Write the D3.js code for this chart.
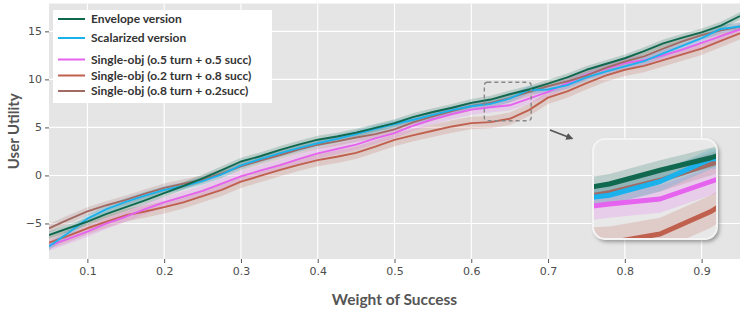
<!DOCTYPE html>
<html><head><meta charset="utf-8">
<script src="https://cdn.jsdelivr.net/npm/d3@7"></script>
<style>body{margin:0;background:#fff} svg{display:block}</style>
</head><body><svg id="c" width="748" height="313"></svg>
<script>
// ---- data ----
const weights = [0.05,0.075,0.1,0.125,0.15,0.175,0.2,0.225,0.25,0.275,0.3,0.325,0.35,0.375,0.4,0.425,0.45,0.475,0.5,0.525,0.55,0.575,0.6,0.625,0.65,0.675,0.7,0.725,0.75,0.775,0.8,0.825,0.85,0.875,0.9,0.925,0.95];
const envelope   = [-6.2,-5.5,-4.8,-4.0,-3.3,-2.6,-1.85,-1.1,-0.3,0.55,1.45,2.0,2.63,3.2,3.72,4.05,4.45,4.95,5.45,6.1,6.6,7.05,7.55,7.9,8.45,8.95,9.55,10.2,11.0,11.6,12.2,12.95,13.75,14.35,14.9,15.6,16.6];
const scalarized = [-7.4,-6.0,-4.5,-3.5,-2.75,-2.1,-1.5,-1.1,-0.6,0.1,1.05,1.7,2.3,2.85,3.35,3.8,4.3,4.85,5.35,5.8,6.3,6.8,7.2,7.45,8.0,8.9,8.95,9.4,10.2,10.8,11.35,11.9,12.7,13.5,14.3,15.25,15.5];
const single55   = [-7.3,-6.6,-5.85,-5.0,-4.3,-3.5,-2.8,-2.2,-1.6,-0.85,-0.1,0.5,1.05,1.7,2.3,2.75,3.2,3.85,4.4,5.2,5.85,6.4,6.85,7.1,7.3,8.0,8.7,9.6,10.5,11.1,11.7,12.0,12.5,13.1,13.8,14.5,15.2];
const single28   = [-7.0,-6.3,-5.5,-4.8,-4.15,-3.75,-3.3,-2.8,-2.15,-1.5,-0.65,-0.05,0.55,1.1,1.6,1.95,2.35,3.0,3.7,4.2,4.65,5.1,5.45,5.55,5.9,6.8,8.1,8.75,9.6,10.4,11.0,11.4,12.0,12.6,13.2,14.0,14.8];
const single82   = [-5.5,-4.6,-3.75,-3.1,-2.55,-1.9,-1.3,-0.85,-0.45,0.2,0.95,1.55,2.1,2.7,3.2,3.55,3.95,4.3,4.8,5.55,6.15,6.7,7.2,7.55,8.05,8.7,9.3,9.8,10.4,11.2,11.85,12.4,13.2,13.95,14.6,15.1,15.5];
const seriesNames = ["Envelope version","Scalarized version","Single-obj (o.5 turn + o.5 succ)","Single-obj (o.2 turn + o.8 succ)","Single-obj (o.8 turn + o.2succ)"];
const seriesValues = [envelope, scalarized, single55, single28, single82];
const bandHalfWidth = [0.4, 0.4, 0.55, 0.65, 0.45];
const xTickValues = [0.1,0.2,0.3,0.4,0.5,0.6,0.7,0.8,0.9];
const yTickValues = [-5,0,5,10,15];

// ---- style ----
const colors = ["#10694f","#1ab1ec","#e563ee","#c0604e","#a16b63"];
const drawOrder = [3,2,4,1,0];

const svg = d3.select("#c");
const P = {l:49, r:740, t:3.5, b:259};
const x = d3.scaleLinear().domain([0.05,0.95]).range([P.l,P.r]);
const y = d3.scaleLinear().domain([-8.7,17.9]).range([P.b,P.t]);

const defs = svg.append("defs");
defs.append("clipPath").attr("id","panelClip").append("rect")
  .attr("x",P.l).attr("y",P.t).attr("width",P.r-P.l).attr("height",P.b-P.t);
const f = defs.append("filter").attr("id","shadow").attr("x","-20%").attr("y","-20%").attr("width","150%").attr("height","150%");
f.append("feDropShadow").attr("dx",2).attr("dy",2.5).attr("stdDeviation",2).attr("flood-color","#000").attr("flood-opacity",0.4);
defs.append("marker").attr("id","arrow").attr("viewBox","0 0 10 10").attr("refX",8).attr("refY",5)
  .attr("markerWidth",4).attr("markerHeight",4).attr("orient","auto")
  .append("path").attr("d","M0,0 L10,5 L0,10 z").attr("fill","#555");

// panel
svg.append("rect").attr("x",P.l).attr("y",P.t).attr("width",P.r-P.l).attr("height",P.b-P.t).attr("fill","#e5e5e5");
const grid = svg.append("g");
grid.selectAll(".gx").data(xTickValues).join("line")
  .attr("x1",d=>x(d)).attr("x2",d=>x(d)).attr("y1",P.t).attr("y2",P.b)
  .attr("stroke","#fff").attr("stroke-width",1.1);
grid.selectAll(".gy").data(yTickValues).join("line")
  .attr("y1",d=>y(d)).attr("y2",d=>y(d)).attr("x1",P.l).attr("x2",P.r)
  .attr("stroke","#fff").attr("stroke-width",1.1);

const line = d3.line().x((d,i)=>x(weights[i])).y(d=>y(d));
function drawSeries(g){
  drawOrder.forEach(k=>{
    const area = d3.area().x((d,i)=>x(weights[i])).y0(d=>y(d-bandHalfWidth[k])).y1(d=>y(d+bandHalfWidth[k]));
    g.append("path").attr("d",area(seriesValues[k])).attr("fill",colors[k]).attr("fill-opacity",0.2);
  });
  drawOrder.forEach(k=>{
    g.append("path").attr("d",line(seriesValues[k])).attr("fill","none")
      .attr("stroke",colors[k]).attr("stroke-width",1.9).attr("stroke-linejoin","round");
  });
}
drawSeries(svg.append("g").attr("clip-path","url(#panelClip)"));

// axes
const xAxis = svg.append("g").attr("transform",`translate(0,${P.b})`)
  .call(d3.axisBottom(x).tickValues(xTickValues).tickSize(4).tickPadding(4).tickFormat(d3.format(".1f")));
const yAxis = svg.append("g").attr("transform",`translate(${P.l},0)`)
  .call(d3.axisLeft(y).tickValues(yTickValues).tickSize(4).tickPadding(3));
[xAxis,yAxis].forEach(a=>{
  a.select(".domain").remove();
  a.selectAll("line").attr("stroke","#555");
  a.selectAll("text").attr("fill","#4d4d4d").style("font-family","'DejaVu Sans'").style("font-size","11px");
});

svg.append("text").attr("x",(P.l+P.r)/2).attr("y",305).attr("text-anchor","middle")
  .style("font-family","Lato").style("font-weight","700").style("font-size","15.5px").attr("fill","#555")
  .text("Weight of Success");
svg.append("text").attr("transform",`translate(19,${(P.t+P.b)/2}) rotate(-90)`).attr("text-anchor","middle")
  .style("font-family","Lato").style("font-weight","700").style("font-size","15px").attr("fill","#555")
  .text("User Utility");

// zoom box
const zb = {x0:0.617, x1:0.678, y0:5.7, y1:9.7};
svg.append("rect").attr("x",x(zb.x0)).attr("y",y(zb.y1)).attr("width",x(zb.x1)-x(zb.x0)).attr("height",y(zb.y0)-y(zb.y1))
  .attr("rx",3).attr("fill","none").attr("stroke","#888").attr("stroke-width",1.4).attr("stroke-dasharray","4,3");
svg.append("line").attr("x1",550).attr("y1",130).attr("x2",572).attr("y2",138.5)
  .attr("stroke","#555").attr("stroke-width",1.8).attr("marker-end","url(#arrow)");

// inset
const I = {x:593, y:139, w:124, h:100, r:12};
const k = I.w/(x(zb.x1)-x(zb.x0));
const ky = I.h/(y(zb.y0)-y(zb.y1));
defs.append("clipPath").attr("id","insetClip").append("rect")
  .attr("x",I.x).attr("y",I.y).attr("width",I.w).attr("height",I.h).attr("rx",I.r);
svg.append("rect").attr("x",I.x).attr("y",I.y).attr("width",I.w).attr("height",I.h).attr("rx",I.r)
  .attr("fill","#e8e8e8").attr("filter","url(#shadow)");
const ig = svg.append("g").attr("clip-path","url(#insetClip)").append("g")
  .attr("transform",`translate(${I.x - k*x(zb.x0)},${I.y - ky*y(zb.y1)}) scale(${k},${ky})`);
drawSeries(ig);
svg.append("rect").attr("x",I.x).attr("y",I.y).attr("width",I.w).attr("height",I.h).attr("rx",I.r)
  .attr("fill","none").attr("stroke","#f4f4f4").attr("stroke-width",2);

// legend
const L = svg.append("g");
L.append("rect").attr("x",53).attr("y",10).attr("width",219).attr("height",93).attr("fill","#fff");
const rowY = [19, 38, 59.5, 75.5, 91];
seriesNames.forEach((n,i)=>{
  L.append("line").attr("x1",58).attr("x2",85).attr("y1",rowY[i]).attr("y2",rowY[i])
    .attr("stroke",colors[i]).attr("stroke-width",2);
  L.append("text").attr("x",91).attr("y",rowY[i]).attr("dy","0.35em")
    .style("font-family","Lato").style("font-weight","700").style("font-size","12px").attr("fill","#333").text(n);
});
</script></body></html>
